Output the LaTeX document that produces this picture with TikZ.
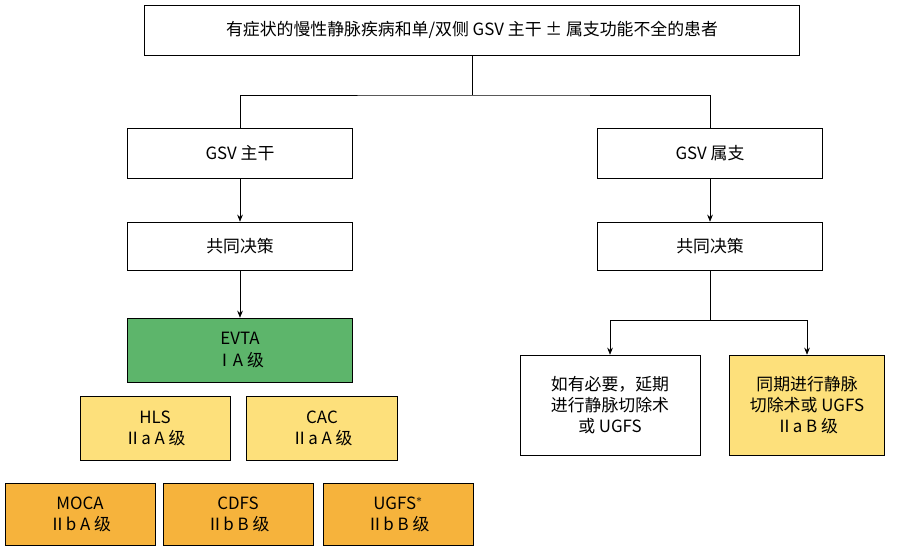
\documentclass[tikz,border=0pt]{standalone}
\usepackage{fontspec}
\setmainfont{Noto Sans CJK SC}
\usetikzlibrary{positioning,arrows.meta}
\definecolor{evtagreen}{HTML}{5DB56B}
\definecolor{lightyellow}{HTML}{FDE07B}
\definecolor{darkorange}{HTML}{F6B33C}
\tikzset{
  box/.style={draw=black, thin, align=center, font=\fontsize{12}{15}\selectfont, inner sep=0pt},
  arr/.style={-{Stealth[length=5pt,width=4pt]}, thin}
}
\begin{document}
\begin{tikzpicture}[x=0.025cm,y=-0.025cm]
\useasboundingbox (0,0) rectangle (905,553);

\node[box, minimum width=655*0.025cm, minimum height=50*0.025cm] (top) at (472,30) {有症状的慢性静脉疾病和单/双侧 GSV 主干 ± 属支功能不全的患者};

\node[box, minimum width=225*0.025cm, minimum height=50*0.025cm] (main) at (240,153) {GSV 主干};
\node[box, minimum width=225*0.025cm, minimum height=50*0.025cm] (branch) at (710,153) {GSV 属支};

\node[box, minimum width=225*0.025cm, minimum height=48*0.025cm] (decl) at (240,246) {共同决策};
\node[box, minimum width=225*0.025cm, minimum height=48*0.025cm] (decr) at (710,246) {共同决策};

\node[box, fill=evtagreen, minimum width=225*0.025cm, minimum height=64*0.025cm] (evta) at (240,350) {EVTA\\ⅠA 级};

\node[box, fill=lightyellow, minimum width=150*0.025cm, minimum height=64*0.025cm] (hls) at (155,428) {HLS\\Ⅱa A 级};
\node[box, fill=lightyellow, minimum width=151*0.025cm, minimum height=64*0.025cm] (cac) at (322,428) {CAC\\Ⅱa A 级};

\node[box, fill=darkorange, minimum width=150*0.025cm, minimum height=62*0.025cm] (moca) at (80,514) {MOCA\\Ⅱb A 级};
\node[box, fill=darkorange, minimum width=150*0.025cm, minimum height=62*0.025cm] (cdfs) at (238,514) {CDFS\\Ⅱb B 级};
\node[box, fill=darkorange, minimum width=150*0.025cm, minimum height=62*0.025cm] (ugfs) at (398,514) {UGFS$^{*}$\\Ⅱb B 级};

\node[box, minimum width=180*0.025cm, minimum height=100*0.025cm] (later) at (610,405) {如有必要，延期\\进行静脉切除术\\或 UGFS};
\node[box, fill=lightyellow, minimum width=155*0.025cm, minimum height=100*0.025cm] (same) at (807,405) {同期进行静脉\\切除术或 UGFS\\Ⅱa B 级};

% connectors
\coordinate (split) at (472,95);
\draw[thin] (top.south) -- (split);
\draw[thin] (main.north) |- (split) -| (branch.north);
\draw[arr] (main) -- (decl);
\draw[arr] (branch) -- (decr);
\draw[arr] (decl) -- (evta);
\coordinate (rsplit) at (710,320);
\draw[thin] (decr.south) -- (rsplit);
\draw[arr] (rsplit) -| (later.north);
\draw[arr] (rsplit) -| (same.north);

\end{tikzpicture}
\end{document}
